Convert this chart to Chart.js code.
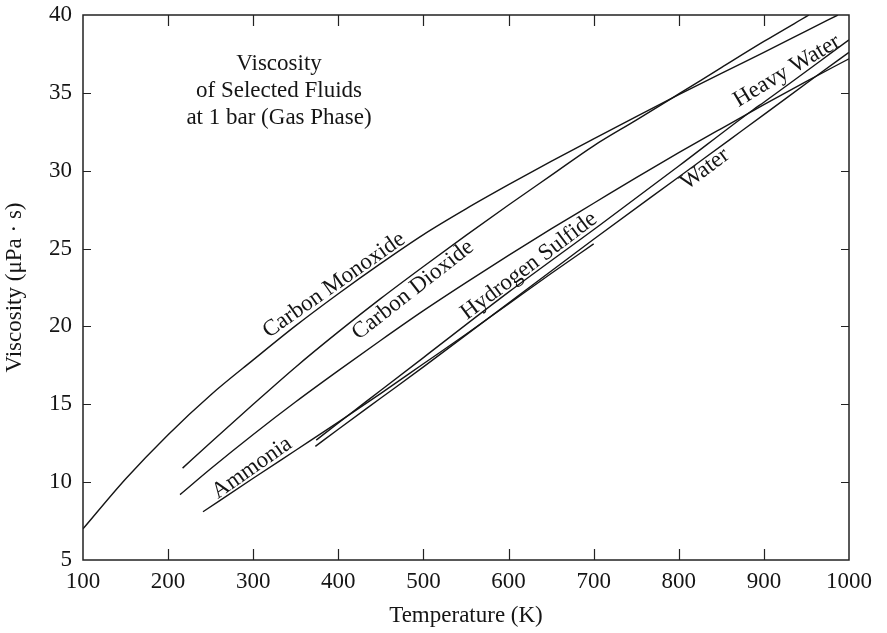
<!DOCTYPE html>
<html>
<head>
<meta charset="utf-8">
<script src="https://cdn.jsdelivr.net/npm/chart.js@4/dist/chart.umd.min.js"></script>
<style>
  html, body { margin: 0; padding: 0; background: #ffffff; }
  #wrap { width: 887px; height: 633px; }
</style>
</head>
<body>
<div id="wrap"><canvas id="chart" width="887" height="633"></canvas></div>
<script>
// Gas-phase viscosity at 1 bar, temperature in K, viscosity in µPa·s
const coTemp   = [100, 150, 200, 250, 300, 350, 400, 450, 500, 550, 600, 650, 700, 750, 800, 850, 900, 950, 987];
const coVisc   = [7.0, 10.2, 13.05, 15.6, 17.85, 20.05, 22.1, 24.05, 25.9, 27.55, 29.1, 30.6, 32.05, 33.48, 34.88, 36.25, 37.6, 38.98, 40.0];

const co2Temp  = [217, 250, 300, 350, 400, 450, 500, 550, 600, 650, 700, 750, 800, 850, 900, 953];
const co2Visc  = [10.9, 12.55, 15.0, 17.4, 19.65, 21.8, 23.85, 25.85, 27.8, 29.7, 31.6, 33.25, 34.93, 36.62, 38.3, 40.0];

const h2sTemp  = [214, 250, 300, 350, 400, 450, 500, 550, 600, 650, 700, 750, 800, 850, 900, 950, 1000];
const h2sVisc  = [9.2, 10.86, 13.06, 15.16, 17.16, 19.11, 21.01, 22.81, 24.56, 26.26, 27.91, 29.56, 31.16, 32.71, 34.24, 35.74, 37.19];

const nh3Temp  = [241, 300, 350, 400, 450, 500, 550, 600, 650, 700];
const nh3Visc  = [8.1, 10.25, 12.05, 13.85, 15.7, 17.6, 19.5, 21.45, 23.4, 25.3];

const h2oTemp  = [373, 400, 450, 500, 600, 700, 800, 860, 900, 962, 1000];
const h2oVisc  = [12.3, 13.4, 15.4, 17.4, 21.5, 25.6, 29.6, 32.0, 33.6, 36.1, 37.6];

const d2oTemp  = [374, 400, 450, 500, 600, 707, 800, 887, 900, 1000];
const d2oVisc  = [12.7, 13.8, 15.9, 18.0, 22.2, 26.5, 30.3, 33.9, 34.4, 38.4];

const xTickValues = [100, 200, 300, 400, 500, 600, 700, 800, 900, 1000];
const yTickValues = [5, 10, 15, 20, 25, 30, 35, 40];

// Curve captions: text, anchor (K, µPa·s), rotation in degrees
const curveLabels = [
  { text: 'Carbon Monoxide',  x: 395,   y: 22.66, angle: -35 },
  { text: 'Carbon Dioxide',   x: 487.7, y: 22.34, angle: -38 },
  { text: 'Hydrogen Sulfide', x: 624,   y: 23.88, angle: -37 },
  { text: 'Ammonia',          x: 298.6, y: 10.91, angle: -35 },
  { text: 'Heavy Water',      x: 927,   y: 36.4,  angle: -31 },
  { text: 'Water',            x: 830.8, y: 30.1,  angle: -37 }
];

const titleLines = ['Viscosity', 'of Selected Fluids', 'at 1 bar (Gas Phase)'];
const titleAnchor = { x: 330.3, y: [36.85, 35.1, 33.4] };

const SERIF = "'Liberation Serif', 'Times New Roman', serif";
const INK = '#151515';

function toPoints(ts, vs) {
  return ts.map((t, i) => ({ x: t, y: vs[i] }));
}

function lineSet(label, ts, vs) {
  return {
    label,
    data: toPoints(ts, vs),
    showLine: true,
    borderColor: INK,
    borderWidth: 1.4,
    pointRadius: 0,
    fill: false,
    cubicInterpolationMode: 'monotone'
  };
}

// Frame with inward tick marks on all four sides, plus the captions
const framePlugin = {
  id: 'frameAndCaptions',
  afterDatasetsDraw(chart) {
    const { ctx, chartArea: a, scales } = chart;
    const xs = scales.x, ys = scales.y;
    ctx.save();
    ctx.strokeStyle = '#222';
    ctx.lineWidth = 1.5;
    ctx.strokeRect(a.left, a.top, a.right - a.left, a.bottom - a.top);

    ctx.lineWidth = 1.2;
    ctx.beginPath();
    xTickValues.forEach(v => {
      if (v === xs.min || v === xs.max) return;
      const px = Math.round(xs.getPixelForValue(v)) + 0.5;
      ctx.moveTo(px, a.bottom); ctx.lineTo(px, a.bottom - 11);
      ctx.moveTo(px, a.top);    ctx.lineTo(px, a.top + 11);
    });
    yTickValues.forEach(v => {
      if (v === ys.min || v === ys.max) return;
      const py = Math.round(ys.getPixelForValue(v)) + 0.5;
      ctx.moveTo(a.left, py);  ctx.lineTo(a.left + 8, py);
      ctx.moveTo(a.right, py); ctx.lineTo(a.right - 8, py);
    });
    ctx.stroke();

    ctx.fillStyle = INK;
    ctx.font = '23px ' + SERIF;
    ctx.textAlign = 'center';
    ctx.textBaseline = 'middle';
    const tx = xs.getPixelForValue(titleAnchor.x);
    titleLines.forEach((line, i) => {
      ctx.fillText(line, tx, ys.getPixelForValue(titleAnchor.y[i]));
    });

    curveLabels.forEach(l => {
      ctx.save();
      ctx.translate(xs.getPixelForValue(l.x), ys.getPixelForValue(l.y));
      ctx.rotate(l.angle * Math.PI / 180);
      ctx.fillText(l.text, 0, 0);
      ctx.restore();
    });
    ctx.restore();
  }
};

new Chart(document.getElementById('chart'), {
  type: 'scatter',
  data: {
    datasets: [
      lineSet('Carbon Monoxide', coTemp, coVisc),
      lineSet('Carbon Dioxide', co2Temp, co2Visc),
      lineSet('Hydrogen Sulfide', h2sTemp, h2sVisc),
      lineSet('Ammonia', nh3Temp, nh3Visc),
      lineSet('Water', h2oTemp, h2oVisc),
      lineSet('Heavy Water', d2oTemp, d2oVisc)
    ]
  },
  options: {
    responsive: false,
    animation: false,
    layout: { padding: { top: 15, right: 38, bottom: 0, left: 0 } },
    plugins: { legend: { display: false }, tooltip: { enabled: false } },
    scales: {
      x: {
        type: 'linear',
        min: 100,
        max: 1000,
        afterBuildTicks: s => { s.ticks = xTickValues.map(v => ({ value: v })); },
        afterFit: s => { s.height = 73; s.paddingLeft = 0; s.paddingRight = 0; },
        grid: { display: false, drawTicks: false },
        border: { display: false },
        ticks: {
          color: INK,
          font: { family: SERIF, size: 23 },
          padding: 8,
          maxRotation: 0,
          callback: v => String(v)
        },
        title: {
          display: true,
          text: 'Temperature (K)',
          color: INK,
          font: { family: SERIF, size: 23 },
          padding: { top: 0, bottom: 3 }
        }
      },
      y: {
        type: 'linear',
        min: 5,
        max: 40,
        afterBuildTicks: s => { s.ticks = yTickValues.map(v => ({ value: v })); },
        afterFit: s => { s.width = 83; s.paddingTop = 0; s.paddingBottom = 0; },
        grid: { display: false, drawTicks: false },
        border: { display: false },
        ticks: {
          color: INK,
          font: { family: SERIF, size: 23 },
          padding: 11,
          callback: v => String(v)
        },
        title: {
          display: true,
          text: 'Viscosity (\u03bcPa \u00b7 s)',
          color: INK,
          font: { family: SERIF, size: 23 },
          padding: { top: 1, bottom: 0 }
        }
      }
    }
  },
  plugins: [framePlugin]
});
</script>
</body>
</html>
